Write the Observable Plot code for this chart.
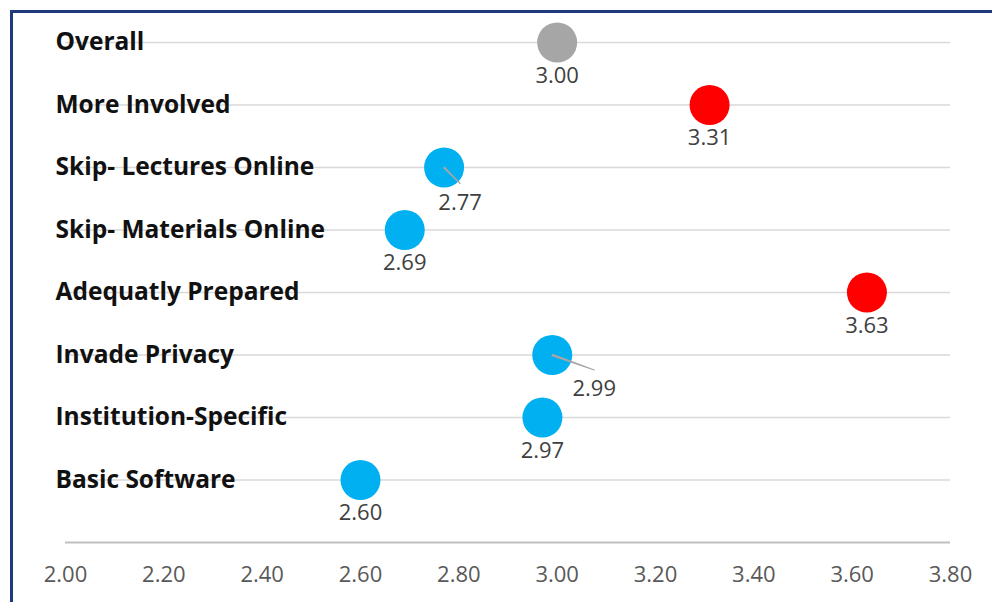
<!DOCTYPE html>
<html>
<head>
<meta charset="utf-8">
<script src="https://cdn.jsdelivr.net/npm/d3@7"></script>
<script src="https://cdn.jsdelivr.net/npm/@observablehq/plot@0.6"></script>
<style>
  html, body { margin: 0; padding: 0; background: #fff; }
  #wrap { position: relative; width: 992px; height: 602px; overflow: hidden; }
  #frame { position: absolute; left: 10px; top: 10px; right: -10px; bottom: -10px;
           border-top: 3px solid #1f3a7c; border-left: 3px solid #1f3a7c; pointer-events: none; }
</style>
</head>
<body>
<div id="wrap"><div id="frame"></div></div>
<script>
const categories = ["Overall", "More Involved", "Skip- Lectures Online", "Skip- Materials Online",
  "Adequatly Prepared", "Invade Privacy", "Institution-Specific", "Basic Software"];
const values = [3.00, 3.31, 2.77, 2.69, 3.63, 2.99, 2.97, 2.60];
const groups = ["Overall", "Higher", "Lower", "Lower", "Higher", "Lower", "Lower", "Lower"];
const xTicks = [2.0, 2.2, 2.4, 2.6, 2.8, 3.0, 3.2, 3.4, 3.6, 3.8];

const n = categories.length;
const data = categories.map((c, i) => ({ category: c, value: values[i], group: groups[i], row: n - i }));

// label callouts: pixel offsets for labels moved away from the default spot under the dot
const callouts = [
  { category: "Skip- Lectures Online", dx: 16, dy: 35 },
  { category: "Invade Privacy", dx: 42, dy: 34 }
];
const calloutNames = new Set(callouts.map(c => c.category));
const font = "'Open Sans', sans-serif";
const numSize = 22;

const valueText = d => d.value.toFixed(2);

const calloutMarks = callouts.flatMap(c => {
  const rows = data.filter(d => d.category === c.category);
  const ex = c.dx, ey = c.dy - 19;
  return [
    Plot.vector(rows, { x: "value", y: "row", length: Math.hypot(ex, ey),
      rotate: Math.atan2(ex, -ey) * 180 / Math.PI, anchor: "start",
      shape: "spike", r: 0.6, stroke: "#a6a6a6", fill: "#a6a6a6", strokeWidth: 1.2 }),
    Plot.text(rows, { x: "value", y: "row", text: valueText, dx: c.dx, dy: c.dy,
      fontSize: numSize, fill: "#404040" })
  ];
});

const chart = Plot.plot({
  width: 992,
  height: 602,
  marginLeft: 65,
  marginRight: 42,
  marginTop: 42,
  marginBottom: 60,
  style: { fontFamily: font, background: "transparent", overflow: "visible" },
  x: { domain: [2, 3.8], label: null },
  y: { domain: [0, n], axis: null },
  color: { domain: ["Overall", "Higher", "Lower"], range: ["#a6a6a6", "#ff0000", "#00b0f0"] },
  marks: [
    Plot.ruleY(data, { y: "row", x1: 2, x2: 3.8, stroke: "#d9d9d9", strokeWidth: 1.5 }),
    Plot.ruleY([0], { x1: 2, x2: 3.8, stroke: "#bfbfbf", strokeWidth: 2 }),
    Plot.text(data, { y: "row", text: "category", frameAnchor: "left", dx: -10, textAnchor: "start",
      fontSize: 24.5, fontWeight: "bold", fill: "#111" }),
    Plot.dot(data, { x: "value", y: "row", r: 20, fill: "group", stroke: null }),
    Plot.text(data.filter(d => !calloutNames.has(d.category)), { x: "value", y: "row", text: valueText,
      dy: 33, fontSize: numSize, fill: "#404040" }),
    ...calloutMarks,
    Plot.axisX({ ticks: xTicks, tickFormat: d => d.toFixed(2), tickSize: 0, tickPadding: 24,
      fontSize: numSize, fill: "#595959", label: null })
  ]
});
document.getElementById("wrap").prepend(chart);
</script>
</body>
</html>
